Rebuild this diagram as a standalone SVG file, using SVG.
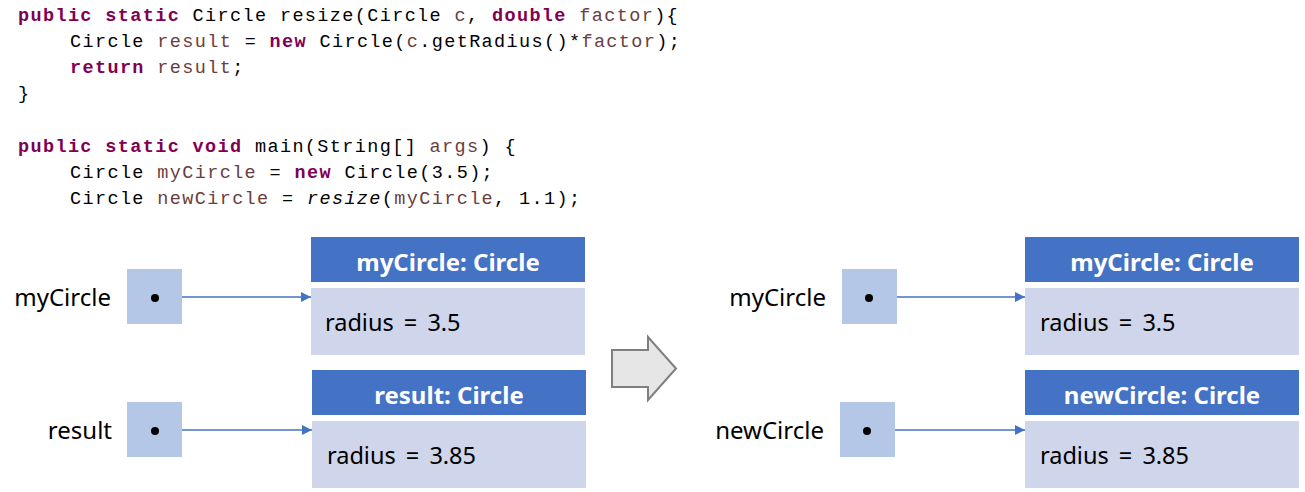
<svg xmlns="http://www.w3.org/2000/svg" width="1305" height="492" viewBox="0 0 1305 492">
<style>
.code{font-family:"Liberation Mono","DejaVu Sans Mono",monospace;font-size:18.5px;letter-spacing:1.37px;fill:#000;white-space:pre}
.kw{fill:#7f0055;font-weight:bold}
.var{fill:#6a3e3e}
.lbl{font-family:"Noto Sans","Open Sans",sans-serif;font-size:24px;fill:#000}
.hdr{font-family:"Noto Sans","Open Sans",sans-serif;font-size:24px;font-weight:bold;fill:#fff}
.body{font-family:"Noto Sans","Open Sans",sans-serif;font-size:23.5px;fill:#000;word-spacing:4px}
.hbox{fill:#4472c4}
.bbox{fill:#cfd5ea}
.ptr{fill:#b4c7e7}
.dot{fill:#000}
.conn{stroke:#4472c4;stroke-width:1.3;fill:none}
</style>
<defs>
<marker id="ah" viewBox="0 0 10 10" refX="10" refY="5" markerWidth="10" markerHeight="10" markerUnits="userSpaceOnUse" orient="auto">
<path d="M0,0 L10,5 L0,10 z" fill="#4472c4"/>
</marker>
</defs>
<rect width="1305" height="492" fill="#fff"/>
<g id="code">
<text class="code" x="18" y="21"><tspan class="kw">public static</tspan> Circle resize(Circle <tspan class="var">c</tspan>, <tspan class="kw">double</tspan> <tspan class="var">factor</tspan>){</text>
<text class="code" x="70" y="47">Circle <tspan class="var">result</tspan> = <tspan class="kw">new</tspan> Circle(<tspan class="var">c</tspan>.getRadius()*<tspan class="var">factor</tspan>);</text>
<text class="code" x="70" y="73"><tspan class="kw">return</tspan> <tspan class="var">result</tspan>;</text>
<text class="code" x="18" y="99">}</text>
<text class="code" x="18" y="152"><tspan class="kw">public static void</tspan> main(String[] <tspan class="var">args</tspan>) {</text>
<text class="code" x="70" y="178">Circle <tspan class="var">myCircle</tspan> = <tspan class="kw">new</tspan> Circle(3.5);</text>
<text class="code" x="70" y="204">Circle <tspan class="var">newCircle</tspan> = <tspan font-style="italic">resize</tspan>(<tspan class="var">myCircle</tspan>, 1.1);</text>
</g>
<g id="left-myCircle-ref">
<text class="lbl" x="111" y="306" text-anchor="end">myCircle</text>
<rect class="ptr" x="127" y="269" width="55" height="55"/>
<circle class="dot" cx="155" cy="298" r="4"/>
</g>
<g id="left-myCircle-obj">
<rect class="hbox" x="311" y="237" width="274" height="45"/>
<text class="hdr" x="448" y="271" text-anchor="middle">myCircle: Circle</text>
<rect class="bbox" x="311" y="288" width="274" height="67"/>
<text class="body" x="325" y="331">radius = 3.5</text>
</g>
<g id="left-result-ref">
<text class="lbl" x="112" y="439" text-anchor="end">result</text>
<rect class="ptr" x="127" y="402" width="55" height="55"/>
<circle class="dot" cx="155" cy="431" r="4"/>
</g>
<g id="left-result-obj">
<rect class="hbox" x="312" y="370" width="274" height="45"/>
<text class="hdr" x="449" y="404" text-anchor="middle">result: Circle</text>
<rect class="bbox" x="312" y="421" width="274" height="67"/>
<text class="body" x="327" y="464">radius = 3.85</text>
</g>
<g id="transition-arrow">
<path d="M612,350 L648,350 L648,337 L676,368.5 L648,400 L648,387 L612,387 Z" fill="#e7e6e6" stroke="#7f7f7f" stroke-width="2"/>
</g>
<g id="right-myCircle-ref">
<text class="lbl" x="826" y="306" text-anchor="end">myCircle</text>
<rect class="ptr" x="842" y="269" width="55" height="55"/>
<circle class="dot" cx="869" cy="298" r="4"/>
</g>
<g id="right-myCircle-obj">
<rect class="hbox" x="1025" y="237" width="274" height="45"/>
<text class="hdr" x="1162" y="271" text-anchor="middle">myCircle: Circle</text>
<rect class="bbox" x="1025" y="288" width="274" height="67"/>
<text class="body" x="1040" y="331">radius = 3.5</text>
</g>
<g id="right-newCircle-ref">
<text class="lbl" x="824" y="439" text-anchor="end">newCircle</text>
<rect class="ptr" x="840" y="402" width="55" height="55"/>
<circle class="dot" cx="867" cy="431" r="4"/>
</g>
<g id="right-newCircle-obj">
<rect class="hbox" x="1025" y="370" width="274" height="45"/>
<text class="hdr" x="1162" y="404" text-anchor="middle">newCircle: Circle</text>
<rect class="bbox" x="1025" y="421" width="274" height="67"/>
<text class="body" x="1040" y="464">radius = 3.85</text>
</g>
<g id="connectors">
<line class="conn" x1="182" y1="297" x2="311" y2="297" marker-end="url(#ah)"/>
<line class="conn" x1="182" y1="430" x2="312" y2="430" marker-end="url(#ah)"/>
<line class="conn" x1="897" y1="297" x2="1025" y2="297" marker-end="url(#ah)"/>
<line class="conn" x1="895" y1="430" x2="1025" y2="430" marker-end="url(#ah)"/>
</g>
</svg>
